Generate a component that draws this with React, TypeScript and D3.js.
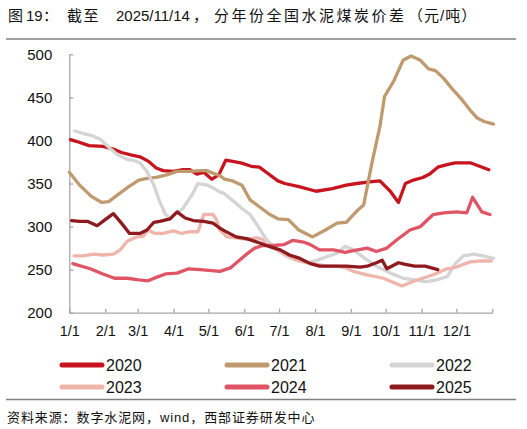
import React, { useEffect, useRef } from "react";
import * as d3 from "d3";

// day-of-year, 元/吨
const s2020: [number, number][] = [
  [1, 401], [6, 399], [17, 394], [29, 393], [38, 390], [45, 386], [54, 383], [61, 381],
  [68, 376], [75, 368], [81, 365], [90, 364], [98, 366], [104, 366], [110, 361], [116, 363],
  [123, 355], [129, 360], [135, 377], [148, 374], [157, 370], [164, 369], [172, 361], [180, 353],
  [186, 350], [199, 346], [213, 341], [227, 344], [239, 348], [248, 350], [259, 352], [268, 353],
  [277, 341], [284, 328], [290, 350], [297, 354], [305, 357], [311, 361], [318, 369], [326, 372],
  [333, 374], [346, 374], [354, 370], [362, 366],
];
const s2021: [number, number][] = [
  [0, 363], [9, 348], [19, 335], [28, 328], [34, 329], [42, 337], [51, 346], [60, 354],
  [67, 356], [75, 357], [84, 360], [93, 364], [104, 364], [113, 365], [118, 365], [124, 362],
  [130, 359], [134, 355], [141, 353], [149, 348], [156, 331], [164, 323], [173, 314], [180, 309],
  [189, 308], [198, 296], [210, 288], [221, 296], [231, 304], [239, 305], [248, 318], [254, 325],
  [261, 373], [268, 416], [272, 451], [280, 469], [288, 493], [295, 498], [303, 493], [310, 483],
  [316, 481], [323, 472], [331, 459], [339, 447], [346, 435], [352, 426], [358, 422], [366, 419],
];
const s2022: [number, number][] = [
  [5, 411], [12, 408], [19, 406], [27, 401], [35, 391], [42, 383], [50, 378], [55, 377],
  [61, 374], [67, 364], [73, 348], [78, 329], [83, 314], [87, 310], [93, 316], [98, 321],
  [106, 337], [111, 350], [119, 348], [124, 345], [130, 340], [133, 339], [142, 329], [149, 321],
  [156, 314], [163, 300], [170, 285], [179, 273], [188, 265], [196, 261], [205, 258], [214, 261],
  [222, 265], [231, 269], [238, 277], [245, 273], [255, 263], [265, 254], [277, 246], [288, 240],
  [298, 238], [308, 236], [317, 238], [326, 242], [333, 257], [340, 266], [349, 268], [357, 266],
  [366, 263],
];
const s2023: [number, number][] = [
  [4, 266], [12, 266], [21, 268], [29, 267], [38, 268], [44, 273], [50, 283], [58, 288],
  [64, 289], [68, 296], [74, 292], [81, 292], [90, 295], [97, 292], [104, 294], [111, 294],
  [116, 314], [124, 314], [127, 308], [130, 296], [136, 288], [144, 287], [153, 285], [162, 287],
  [167, 285], [170, 278], [179, 273], [188, 267], [196, 261], [205, 258], [214, 256], [222, 254],
  [231, 254], [239, 252], [245, 248], [251, 246], [257, 244], [271, 240], [287, 231], [300, 238],
  [314, 244], [326, 251], [334, 253], [346, 259], [354, 260], [364, 260],
];
const s2024: [number, number][] = [
  [3, 257], [18, 251], [29, 245], [39, 240], [50, 240], [60, 238], [68, 237], [75, 241],
  [83, 245], [93, 246], [103, 251], [113, 250], [130, 248], [139, 252], [146, 260], [153, 268],
  [160, 275], [167, 278], [176, 278], [185, 279], [193, 284], [202, 282], [208, 279], [216, 273],
  [228, 273], [238, 270], [245, 272], [257, 275], [265, 271], [274, 275], [283, 285], [294, 296],
  [303, 300], [314, 314], [323, 316], [334, 317], [343, 316], [348, 334], [356, 317], [363, 314],
];
const s2025: [number, number][] = [
  [2, 307], [9, 306], [16, 306], [24, 301], [31, 308], [38, 315], [45, 304], [52, 292],
  [61, 292], [67, 296], [73, 305], [78, 306], [87, 309], [93, 317], [100, 310], [107, 307],
  [116, 306], [124, 304], [130, 298], [134, 295], [144, 288], [153, 286], [162, 282], [170, 278],
  [182, 273], [190, 267], [199, 263], [208, 257], [216, 254], [228, 254], [239, 254], [251, 253],
  [257, 254], [265, 258], [270, 261], [274, 251], [284, 258], [290, 256], [298, 254], [307, 254],
  [318, 250],
];

const years = ["2020", "2021", "2022", "2023", "2024", "2025"];
const colors = ["#C8141E", "#C09A6F", "#D4D4D4", "#EFB5AA", "#E05565", "#8E1A1E"];
const seriesData = [s2020, s2021, s2022, s2023, s2024, s2025];

const monthLabels = ["1/1", "2/1", "3/1", "4/1", "5/1", "6/1", "7/1", "8/1", "9/1", "10/1", "11/1", "12/1"];
const monthStarts = [0, 31, 59, 90, 120, 151, 181, 212, 243, 273, 304, 334];
const yTicks = [200, 250, 300, 350, 400, 450, 500];

const W = 527;
const H = 429;
const FONT = "'Liberation Sans', Arial, 'Noto Sans CJK SC', sans-serif";

const App: React.FC = () => {
  const svgRef = useRef<SVGSVGElement | null>(null);

  useEffect(() => {
    const svg = d3.select(svgRef.current);
    svg.selectAll("*").remove();

    svg.append("rect").attr("width", W).attr("height", H).attr("fill", "white");

    const x = d3.scaleLinear().domain([0, 365]).range([69.3, 492.3]);
    const y = d3.scaleLinear().domain([200, 500]).range([312.7, 54.3]);

    // title
    const title = svg
      .append("text")
      .attr("y", 15)
      .attr("dominant-baseline", "central")
      .style("font-family", FONT)
      .style("font-size", "15px")
      .attr("fill", "#111");
    const parts: [number, string, number][] = [
      [8, "图", 0],
      [26, "19", 0],
      [43, "：", 0],
      [67, "截至", 1.5],
      [116, "2025/11/14", 0],
      [193, "，", 0],
      [214, "分年份全国水泥煤炭价差", 2.5],
      [408, "（元/吨）", 1],
    ];
    parts.forEach(([px, t, ls]) => {
      title.append("tspan").attr("x", px).style("letter-spacing", `${ls}px`).text(t);
    });

    // rules
    svg.append("line").attr("x1", 6).attr("x2", 516).attr("y1", 39).attr("y2", 39)
      .attr("stroke", "#7f7f7f").attr("stroke-width", 1.5);
    svg.append("line").attr("x1", 6).attr("x2", 516).attr("y1", 399.5).attr("y2", 399.5)
      .attr("stroke", "#7f7f7f").attr("stroke-width", 1.5);

    // axes
    const axisColor = "#a6a6a6";
    const yAxis = svg
      .append("g")
      .attr("transform", `translate(${x(0)},0)`)
      .call(d3.axisLeft(y).tickValues(yTicks).tickSize(-4).tickPadding(17).tickSizeOuter(0));
    yAxis.selectAll("path, line").attr("stroke", axisColor).attr("stroke-width", 1.3);
    yAxis.selectAll("text")
      .attr("fill", "#111")
      .style("font-family", FONT)
      .style("font-size", "15px");

    const xAxis = svg
      .append("g")
      .attr("transform", `translate(0,${y(200)})`)
      .call(
        d3.axisBottom(x)
          .tickValues([...monthStarts, 365])
          .tickSize(-4)
          .tickSizeOuter(0)
          .tickPadding(13)
          .tickFormat((d, i) => monthLabels[i] ?? "")
      );
    xAxis.selectAll("path, line").attr("stroke", axisColor).attr("stroke-width", 1.3);
    xAxis.selectAll("text")
      .attr("fill", "#111")
      .style("font-family", FONT)
      .style("font-size", "14.5px");

    // series
    const line = d3
      .line<[number, number]>()
      .x((d) => x(d[0]))
      .y((d) => y(d[1]));

    seriesData.forEach((data, i) => {
      svg
        .append("path")
        .datum(data)
        .attr("d", line)
        .attr("fill", "none")
        .attr("stroke", colors[i])
        .attr("stroke-width", 3.3)
        .attr("stroke-linejoin", "round")
        .attr("stroke-linecap", "round");
    });

    // legend
    const colX = [62, 227, 392];
    const rowY = [365, 387];
    years.forEach((yr, i) => {
      const lx = colX[i % 3];
      const ly = rowY[Math.floor(i / 3)];
      svg.append("line")
        .attr("x1", lx).attr("x2", lx + 40).attr("y1", ly).attr("y2", ly)
        .attr("stroke", colors[i]).attr("stroke-width", 5).attr("stroke-linecap", "round");
      svg.append("text")
        .attr("x", lx + 44).attr("y", ly)
        .attr("dominant-baseline", "central")
        .style("font-family", FONT)
        .style("font-size", "16px")
        .attr("fill", "#111")
        .text(yr);
    });

    // source
    svg.append("text")
      .attr("x", 7).attr("y", 417)
      .attr("dominant-baseline", "central")
      .style("font-family", FONT)
      .style("font-size", "13px")
      .style("letter-spacing", "0.9px")
      .attr("fill", "#111")
      .text("资料来源：数字水泥网，wind，西部证券研发中心");
  }, []);

  return (
    <svg
      ref={svgRef}
      width={W}
      height={H}
      style={{ position: "absolute", left: 0, top: 0, display: "block" }}
    />
  );
};

export default App;
